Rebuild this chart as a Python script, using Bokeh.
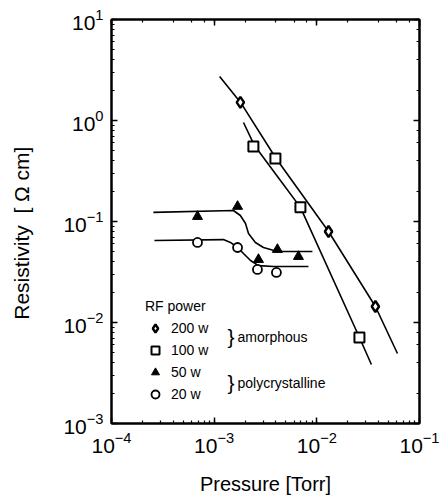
from bokeh.plotting import figure
from bokeh.models import LogAxis, Label, Legend, LegendItem, CustomJSTickFormatter
from bokeh.embed import file_html
from bokeh.resources import INLINE

# Measured resistivity points for each RF power
p200_x = [1.80e-3, 1.30e-2, 3.72e-2]
p200_y = [1.51, 0.0796, 0.0144]
p100_x = [2.41e-3, 3.95e-3, 6.92e-3, 2.60e-2]
p100_y = [0.553, 0.420, 0.138, 0.0071]
p50_x = [6.88e-4, 1.69e-3, 2.70e-3, 4.13e-3, 6.62e-3]
p50_y = [0.112, 0.141, 0.0420, 0.0528, 0.045]
p20_x = [6.88e-4, 1.69e-3, 2.64e-3, 4.04e-3]
p20_y = [0.062, 0.0553, 0.0335, 0.0313]

# Hand-drawn guide curves through each series
fit200_x = [1.13e-3, 1.84e-3, 3.95e-3, 1.30e-2, 3.72e-2, 6.10e-2]
fit200_y = [2.73, 1.47, 0.430, 0.0796, 0.0144, 0.00493]
fit100_x = [1.93e-3, 2.47e-3, 4.42e-3, 6.92e-3, 2.60e-2, 3.40e-2]
fit100_y = [0.955, 0.565, 0.255, 0.138, 0.0071, 0.00384]
fit50_x = [2.56e-4, 1.54e-3, 1.80e-3, 2.02e-3, 2.16e-3, 2.52e-3, 3.02e-3, 4.13e-3, 9.06e-3]
fit50_y = [0.123, 0.1285, 0.1146, 0.0955, 0.0760, 0.0620, 0.0553, 0.0505, 0.0505]
fit20_x = [2.62e-4, 1.23e-3, 1.44e-3, 1.69e-3, 1.93e-3, 2.26e-3, 2.70e-3, 3.78e-3, 8.28e-3]
fit20_y = [0.0649, 0.0662, 0.0620, 0.0553, 0.0482, 0.0411, 0.0366, 0.0358, 0.0358]

FONT = "Liberation Sans"
NB = "\u00a0"

p = figure(x_axis_type="log", y_axis_type="log",
           x_range=(1e-4, 1e-1), y_range=(1e-3, 1e1),
           frame_width=308, frame_height=404,
           min_border_left=111, min_border_right=27,
           min_border_top=19, min_border_bottom=77,
           output_backend="svg", toolbar_location=None,
           background_fill_color="white", border_fill_color="white")
p.grid.visible = False
p.outline_line_color = "black"
p.outline_line_width = 2

def style_axis(ax, labels=True):
    ax.axis_line_color = "black"
    ax.axis_line_width = 2
    ax.major_tick_in = 6
    ax.major_tick_out = 0
    ax.minor_tick_in = 3
    ax.minor_tick_out = 0
    ax.major_tick_line_width = 1.5
    ax.minor_tick_line_width = 1.2
    if labels:
        ax.major_label_text_font = FONT
        ax.major_label_text_font_size = "21px"
        ax.major_label_text_color = "black"
        ax.axis_label_text_font = FONT
        ax.axis_label_text_font_size = "20px"
        ax.axis_label_text_font_style = "normal"
        ax.axis_label_text_color = "black"
    else:
        ax.formatter = CustomJSTickFormatter(code="return ''")
        ax.major_label_standoff = 0

style_axis(p.xaxis[0])
style_axis(p.yaxis[0])
p.xaxis.axis_label = "Pressure [Torr]"
p.yaxis.axis_label = "Resistivity" + NB * 2 + "[" + NB + "\u03a9" + NB + "cm]" + NB * 4
p.xaxis.major_label_standoff = 8
p.xaxis.axis_label_standoff = 17
p.yaxis.major_label_standoff = 8
p.yaxis.axis_label_standoff = 27
p.yaxis.axis_label_text_font_size = "21px"

top = LogAxis()
right = LogAxis()
style_axis(top, labels=False)
style_axis(right, labels=False)
p.add_layout(top, "above")
p.add_layout(right, "right")

# guide curves
for fx, fy in [(fit200_x, fit200_y), (fit100_x, fit100_y),
               (fit50_x, fit50_y), (fit20_x, fit20_y)]:
    p.line(fx, fy, line_color="black", line_width=1.6)

# measured points
r200 = p.scatter(p200_x, p200_y, marker="diamond", size=11,
                 fill_color="white", line_color="black", line_width=2.4)
r100 = p.scatter(p100_x, p100_y, marker="square", size=10,
                 fill_color="white", line_color="black", line_width=2)
r50 = p.scatter(p50_x, p50_y, marker="triangle", size=10,
                fill_color="black", line_color="black", line_width=1)
r20 = p.scatter(p20_x, p20_y, marker="circle", size=9,
                fill_color="white", line_color="black", line_width=1.8)

legend = Legend(items=[LegendItem(label="200 w", renderers=[r200]),
                       LegendItem(label="100 w", renderers=[r100]),
                       LegendItem(label="50 w", renderers=[r50]),
                       LegendItem(label="20 w", renderers=[r20])],
                title="RF power", location=(34, 19),
                border_line_color=None, background_fill_alpha=0,
                padding=0, margin=0, spacing=2,
                glyph_width=20, glyph_height=20, label_height=20,
                label_standoff=6, title_standoff=4,
                label_text_font=FONT, label_text_font_size="14px",
                label_text_color="black",
                title_text_font=FONT, title_text_font_size="14px",
                title_text_font_style="normal", title_text_color="black")
p.add_layout(legend)

# group braces
for ylab, word in [(87, "amorphous"), (41, "polycrystalline")]:
    p.add_layout(Label(x=116, y=ylab, x_units="screen", y_units="screen",
                       text="}", text_font=FONT, text_font_size="21px",
                       text_color="black",
                       text_baseline="middle", text_align="left"))
    p.add_layout(Label(x=126, y=ylab, x_units="screen", y_units="screen",
                       text=word, text_font=FONT, text_font_size="14px",
                       text_color="black",
                       text_baseline="middle", text_align="left"))

open("out.html", "w").write(file_html(p, INLINE))
